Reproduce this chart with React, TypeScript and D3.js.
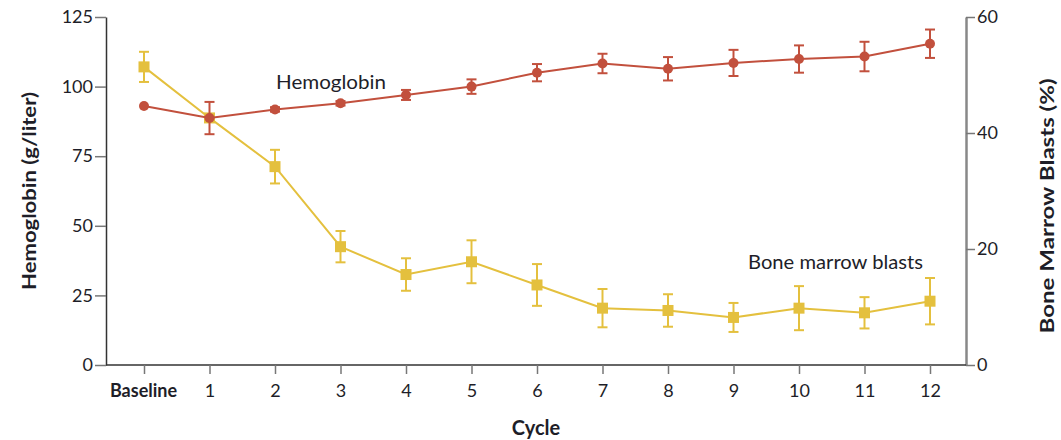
import { useEffect, useRef } from "react"
import * as d3 from "d3"

const CYCLES = ["Baseline", "1", "2", "3", "4", "5", "6", "7", "8", "9", "10", "11", "12"]
const HGB = [93, 88.7, 91.8, 94, 97, 100, 105, 108.3, 106.4, 108.5, 109.9, 110.8, 115.4]
const HGB_ERR = [0, 5.8, 0.8, 0.8, 1.8, 2.6, 3.1, 3.5, 4.2, 4.7, 4.9, 5.3, 5.1]
const BLASTS = [51.4, 42.6, 34.2, 20.4, 15.6, 17.8, 13.8, 9.8, 9.4, 8.2, 9.8, 9.0, 11.0]
const BLASTS_ERR = [2.6, 0, 2.9, 2.7, 2.8, 3.7, 3.6, 3.3, 2.8, 2.5, 3.8, 2.7, 4.0]
const HGB_TICKS = [0, 25, 50, 75, 100, 125]
const BLAST_TICKS = [0, 20, 40, 60]

const RED = "#c2503d"
const YELLOW = "#e4c03e"
const INK = "#1e1e28"
const FONT = "Lato, 'Open Sans', sans-serif"

export default function App() {
    const svgRef = useRef<SVGSVGElement>(null)

    useEffect(() => {
        document.body.style.margin = "0"
        const svg = d3.select(svgRef.current)
        svg.selectAll("*").remove()

        const left = 106, right = 966, top = 17, bottom = 365

        const x = d3.scalePoint<string>().domain(CYCLES).range([144, 930])
        const yL = d3.scaleLinear().domain([0, 125]).range([bottom, top])
        const yR = d3.scaleLinear().domain([0, 60]).range([bottom, top])

        // left axis
        const gl = svg.append("g").attr("transform", `translate(${left},0)`)
            .call(d3.axisLeft(yL).tickValues(HGB_TICKS).tickSize(11).tickPadding(2).tickSizeOuter(0))
        gl.select(".domain").attr("stroke", "#333").attr("stroke-width", 1.5)
        gl.selectAll(".tick line").attr("stroke", "#777").attr("stroke-width", 1.5)
        gl.selectAll(".tick text").attr("font-size", 18).attr("font-family", FONT).attr("fill", INK)

        // right axis
        const gr = svg.append("g").attr("transform", `translate(${right},0)`)
            .call(d3.axisRight(yR).tickValues(BLAST_TICKS).tickSize(9).tickPadding(2).tickSizeOuter(0))
        gr.select(".domain").attr("stroke", "#888").attr("stroke-width", 2.5)
        gr.selectAll(".tick line").attr("stroke", "#777").attr("stroke-width", 1.5)
        gr.selectAll(".tick text").attr("font-size", 18).attr("font-family", FONT).attr("fill", INK)

        // bottom axis
        svg.append("line").attr("x1", left).attr("x2", right).attr("y1", bottom).attr("y2", bottom)
            .attr("stroke", "#333").attr("stroke-width", 1.5)
        const gb = svg.append("g").attr("transform", `translate(0,${bottom})`)
            .call(d3.axisBottom(x).tickSize(9).tickPadding(10).tickSizeOuter(0))
        gb.select(".domain").remove()
        gb.selectAll(".tick line").attr("stroke", "#777").attr("stroke-width", 1.5)
        gb.selectAll(".tick text").attr("font-size", 18).attr("font-family", FONT).attr("fill", INK)
            .attr("font-weight", (d: any) => d === "Baseline" ? "bold" : "normal")
            .attr("dx", (d: any) => d === "Baseline" ? -1 : 0)

        // axis titles
        svg.append("text").attr("transform", `translate(36,191) rotate(-90)`)
            .attr("text-anchor", "middle").attr("font-size", 19).attr("font-weight", "bold")
            .attr("font-family", FONT).attr("fill", INK)
            .attr("textLength", 198).attr("lengthAdjust", "spacingAndGlyphs")
            .text("Hemoglobin (g/liter)")
        svg.append("text").attr("transform", `translate(1054,206) rotate(-90)`)
            .attr("text-anchor", "middle").attr("font-size", 19).attr("font-weight", "bold")
            .attr("font-family", FONT).attr("fill", INK)
            .attr("textLength", 255).attr("lengthAdjust", "spacingAndGlyphs")
            .text("Bone Marrow Blasts (%)")
        svg.append("text").attr("x", 536).attr("y", 435)
            .attr("text-anchor", "middle").attr("font-size", 20).attr("font-weight", "bold")
            .attr("font-family", FONT).attr("fill", INK).text("Cycle")

        // blasts series
        const blasts = CYCLES.map((c, i) => ({ c, v: BLASTS[i], e: BLASTS_ERR[i] }))
        const gy = svg.append("g")
        gy.append("path").datum(blasts)
            .attr("fill", "none").attr("stroke", YELLOW).attr("stroke-width", 2)
            .attr("d", d3.line<any>().x(d => x(d.c)!).y(d => yR(d.v)))
        const ey = gy.selectAll(".err").data(blasts.filter(d => d.e > 0)).join("g")
            .attr("stroke", YELLOW).attr("stroke-width", 2)
        ey.append("line").attr("x1", d => x(d.c)!).attr("x2", d => x(d.c)!)
            .attr("y1", d => yR(d.v - d.e)).attr("y2", d => yR(d.v + d.e))
        ey.append("line").attr("x1", d => x(d.c)! - 5).attr("x2", d => x(d.c)! + 5)
            .attr("y1", d => yR(d.v - d.e)).attr("y2", d => yR(d.v - d.e))
        ey.append("line").attr("x1", d => x(d.c)! - 5).attr("x2", d => x(d.c)! + 5)
            .attr("y1", d => yR(d.v + d.e)).attr("y2", d => yR(d.v + d.e))
        gy.selectAll("rect").data(blasts).join("rect")
            .attr("x", d => x(d.c)! - 5.5).attr("y", d => yR(d.v) - 5.5)
            .attr("width", 11).attr("height", 11).attr("fill", YELLOW)

        // hemoglobin series
        const hgb = CYCLES.map((c, i) => ({ c, v: HGB[i], e: HGB_ERR[i] }))
        const gh = svg.append("g")
        gh.append("path").datum(hgb)
            .attr("fill", "none").attr("stroke", RED).attr("stroke-width", 2)
            .attr("d", d3.line<any>().x(d => x(d.c)!).y(d => yL(d.v)))
        const eh = gh.selectAll(".err").data(hgb.filter(d => d.e > 0)).join("g")
            .attr("stroke", RED).attr("stroke-width", 2)
        eh.append("line").attr("x1", d => x(d.c)!).attr("x2", d => x(d.c)!)
            .attr("y1", d => yL(d.v - d.e)).attr("y2", d => yL(d.v + d.e))
        eh.append("line").attr("x1", d => x(d.c)! - 5).attr("x2", d => x(d.c)! + 5)
            .attr("y1", d => yL(d.v - d.e)).attr("y2", d => yL(d.v - d.e))
        eh.append("line").attr("x1", d => x(d.c)! - 5).attr("x2", d => x(d.c)! + 5)
            .attr("y1", d => yL(d.v + d.e)).attr("y2", d => yL(d.v + d.e))
        gh.selectAll("circle").data(hgb).join("circle")
            .attr("cx", d => x(d.c)!).attr("cy", d => yL(d.v)).attr("r", 5).attr("fill", RED)

        // series labels
        svg.append("text").attr("x", 276).attr("y", 89).attr("font-size", 19)
            .attr("font-family", FONT).attr("fill", INK)
            .attr("textLength", 110).attr("lengthAdjust", "spacingAndGlyphs").text("Hemoglobin")
        svg.append("text").attr("x", 748).attr("y", 269).attr("font-size", 19)
            .attr("font-family", FONT).attr("fill", INK)
            .attr("textLength", 175).attr("lengthAdjust", "spacingAndGlyphs").text("Bone marrow blasts")
    }, [])

    return <svg ref={svgRef} width={1061} height={440} style={{ display: "block", background: "#fff" }} />
}
